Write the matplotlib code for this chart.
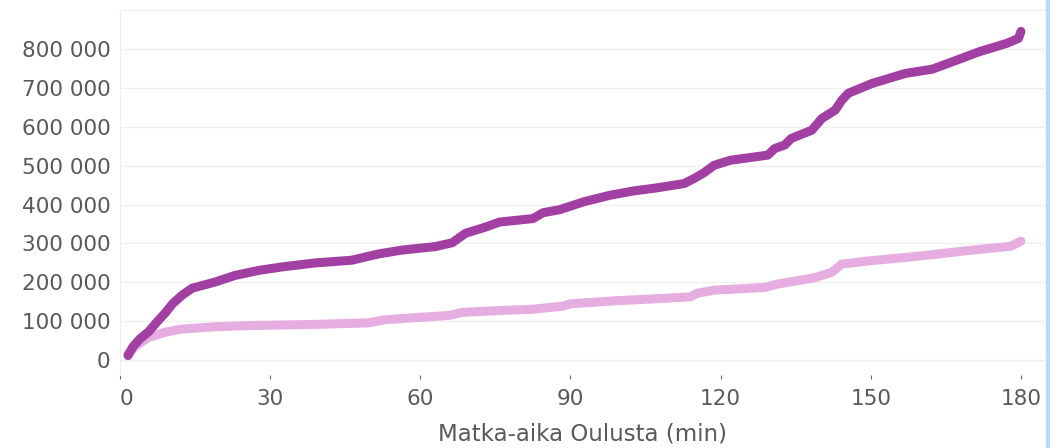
import numpy as np
import matplotlib.pyplot as plt
from matplotlib.ticker import FuncFormatter
from matplotlib.patches import Rectangle

# ==========================================================
# DATA (luettu kuvasta)
# ==========================================================
dark_t = [1.6, 2.6, 4, 5.7, 7.5, 9, 10.5, 12.4, 14.4, 19, 23, 27.8, 32.5, 39,
          46.3, 51.6, 56.3, 63, 66.4, 69, 73, 75.8, 82.5, 84.5, 87.9, 92.6,
          97.9, 102.6, 107.3, 112.7, 114.7, 116.7, 118.7, 122, 129.4, 130.8,
          132.8, 134.1, 138.2, 140.2, 142.9, 144.2, 145.5, 150.2, 156.9,
          162.3, 166.3, 171.7, 177.1, 179.5, 180]
dark_v = [12000, 35000, 55000, 73000, 100000, 121000, 145000, 167000, 185000,
          201000, 218000, 231000, 240000, 250000, 257000, 273000, 283000,
          292000, 302000, 326000, 342000, 355000, 364000, 379000, 387000,
          407000, 424000, 435000, 443000, 454000, 467000, 482000, 501000,
          514000, 527000, 544000, 553000, 570000, 591000, 621000, 643000,
          668000, 686000, 711000, 737000, 748000, 767000, 793000, 814000,
          827000, 845000]

light_t = [1.6, 3, 5.6, 9, 12.3, 19, 25.7, 39, 49.6, 53, 59.7, 65.7, 68.4,
           76.5, 82.5, 88.5, 90, 99.3, 107.3, 114, 115.3, 118.7, 128.8, 131.5,
           138.8, 142.2, 144.2, 150.2, 156.9, 162.8, 169.5, 178, 180]
light_v = [15000, 35000, 58000, 72000, 80000, 86000, 89000, 92000, 96000,
           104000, 110000, 115000, 123000, 128000, 131000, 139000, 145000,
           153000, 158000, 163000, 172000, 180000, 187000, 196000, 212000,
           226000, 247000, 256000, 264000, 272000, 282000, 293000, 306000]

x_ticks = [0, 30, 60, 90, 120, 150, 180]
y_ticks = [0, 100000, 200000, 300000, 400000, 500000, 600000, 700000, 800000]
x_label = "Matka-aika Oulusta (min)"

DARK = "#A23FA3"
LIGHT = "#E6AEE0"
TXT = "#595959"

plt.rcParams["font.family"] = ["DejaVu Sans"]

fig = plt.figure(figsize=(10.5, 4.48), dpi=100)
ax = fig.add_axes([120 / 1050, 1 - 375 / 448, (1045 - 120) / 1050, (375 - 10) / 448])

ax.plot(light_t, light_v, color=LIGHT, lw=6.5, solid_capstyle="round",
        solid_joinstyle="round", zorder=3)
ax.plot(dark_t, dark_v, color=DARK, lw=6.5, solid_capstyle="round",
        solid_joinstyle="round", zorder=4)

ax.set_xlim(0, 184.8)
ax.set_ylim(-38000, 900000)

ax.set_xticks(x_ticks)
ax.set_yticks(y_ticks)
ax.yaxis.set_major_formatter(FuncFormatter(lambda v, p: f"{int(v):,}".replace(",", " ")))

ax.grid(axis="y", color="#f0f0f0", lw=1)
ax.axhline(0, color="#bbbbbb", lw=0.8, ls=(0, (1, 1.5)), zorder=1)

for s in ["right", "bottom"]:
    ax.spines[s].set_visible(False)
ax.spines["left"].set_color("#eeeeee")
ax.spines["top"].set_color("#f0f0f0")

ax.tick_params(axis="y", length=0, pad=7, labelsize=15.5, labelcolor=TXT)
ax.tick_params(axis="x", length=3, width=0.8, color="#666666", pad=7,
               labelsize=15.5, labelcolor=TXT)
ax.get_xticklabels()[0].set_horizontalalignment("left")

ax.set_xlabel(x_label, fontsize=16.5, color=TXT, labelpad=10)

# sininen reunus oikealla
fig.patches.append(Rectangle((1046 / 1050, 0), 4 / 1050, 1, transform=fig.transFigure,
                             color="#B5DCFA", zorder=0))

fig.savefig("out.png", dpi=100)
